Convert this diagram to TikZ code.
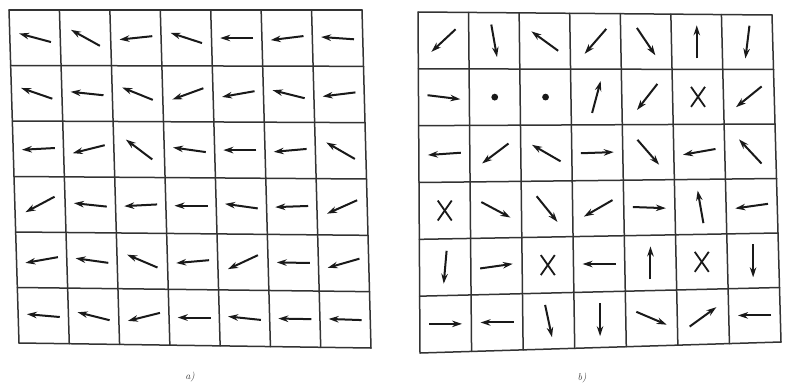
\documentclass[tikz,border=0pt]{standalone}
\usetikzlibrary{calc,arrows.meta}
\tikzset{
  gridline/.style={line width=1.5pt, draw=black!80, line cap=round},
  vec/.style={line width=2pt, draw=black!90, -{Stealth[length=10pt,width=6.5pt]}},
  crossline/.style={line width=1.8pt, draw=black!90},
  lbl/.style={font=\itshape\normalsize, text=black!75}
}
\begin{document}
\begin{tikzpicture}[x=1pt,y=-1pt]
\useasboundingbox (0,0) rectangle (786,388);
\fill[white] (0,0) rectangle (786,388);
% grid corners
\coordinate (a-TL) at (9,10);   \coordinate (a-TR) at (362,10);
\coordinate (a-BL) at (19,343); \coordinate (a-BR) at (371,348);
\coordinate (b-TL) at (418,12);  \coordinate (b-TR) at (772,15);
\coordinate (b-BL) at (420,353); \coordinate (b-BR) at (781,342);
% grids and cell centres
\foreach \g in {a,b}{
  \foreach \i in {0,...,7}
    \draw[gridline] ($(\g-TL)!\i/7!(\g-TR)$) -- ($(\g-BL)!\i/7!(\g-BR)$);
  \foreach \j in {0,...,6}
    \draw[gridline] ($(\g-TL)!\j/6!(\g-BL)$) -- ($(\g-TR)!\j/6!(\g-BR)$);
  \foreach \r in {1,...,6}{
    \foreach \c in {1,...,7}{
      \pgfmathsetmacro\uu{(\c-0.5)/7}
      \pgfmathsetmacro\vv{(\r-0.5)/6}
      \coordinate (tmpT) at ($(\g-TL)!\uu!(\g-TR)$);
      \coordinate (tmpB) at ($(\g-BL)!\uu!(\g-BR)$);
      \coordinate (\g-\r-\c) at ($(tmpT)!\vv!(tmpB)$);
    }
  }
}
% grid a arrows
\foreach \r/\c/\a in {
  1/1/165, 1/2/151, 1/3/186, 1/4/162, 1/5/180, 1/6/187, 1/7/176,
  2/1/161, 2/2/174, 2/3/158, 2/4/200, 2/5/190, 2/6/166, 2/7/187,
  3/1/183, 3/2/194, 3/3/143, 3/4/172, 3/5/180, 3/6/185, 3/7/150,
  4/1/208, 4/2/174, 4/3/183, 4/4/180, 4/5/172, 4/6/182, 4/7/204,
  5/1/190, 5/2/172, 5/3/157, 5/4/185, 5/5/205, 5/6/179, 5/7/196,
  6/1/175, 6/2/166, 6/3/194, 6/4/180, 6/5/174, 6/6/179, 6/7/178}
  \draw[vec] ($(a-\r-\c)+(\a+180:16.5pt)$) -- ($(a-\r-\c)+(\a:16.5pt)$);
% grid b arrows
\foreach \r/\c/\a in {
  1/1/223, 1/2/280, 1/3/144, 1/4/229, 1/5/304, 1/6/90, 1/7/263,
  2/1/353, 2/4/75, 2/5/232, 2/7/219,
  3/1/184, 3/2/217, 3/3/150, 3/4/2, 3/5/311, 3/6/190, 3/7/133,
  4/2/332, 4/3/309, 4/4/210, 4/5/358, 4/6/100, 4/7/188,
  5/1/265, 5/2/8, 5/4/180, 5/5/90, 5/7/270,
  6/1/0, 6/2/180, 6/3/282, 6/4/270, 6/5/337, 6/6/36, 6/7/180}
  \draw[vec] ($(b-\r-\c)+(\a+180:16.5pt)$) -- ($(b-\r-\c)+(\a:16.5pt)$);
% dots
\foreach \r/\c in {2/2, 2/3}
  \fill[black!90] (b-\r-\c) circle (3.4pt);
% crosses
\foreach \r/\c in {2/6, 4/1, 5/3, 5/6}{
  \draw[crossline] ($(b-\r-\c)+(-7pt,10pt)$) -- ($(b-\r-\c)+(7pt,-10pt)$);
  \draw[crossline] ($(b-\r-\c)+(7pt,10pt)$) -- ($(b-\r-\c)+(-7pt,-10pt)$);
}
% labels
\node[lbl] (la) at (190,377) {a)};
\node[lbl] (lb) at (582,378) {b)};
\end{tikzpicture}
\end{document}
